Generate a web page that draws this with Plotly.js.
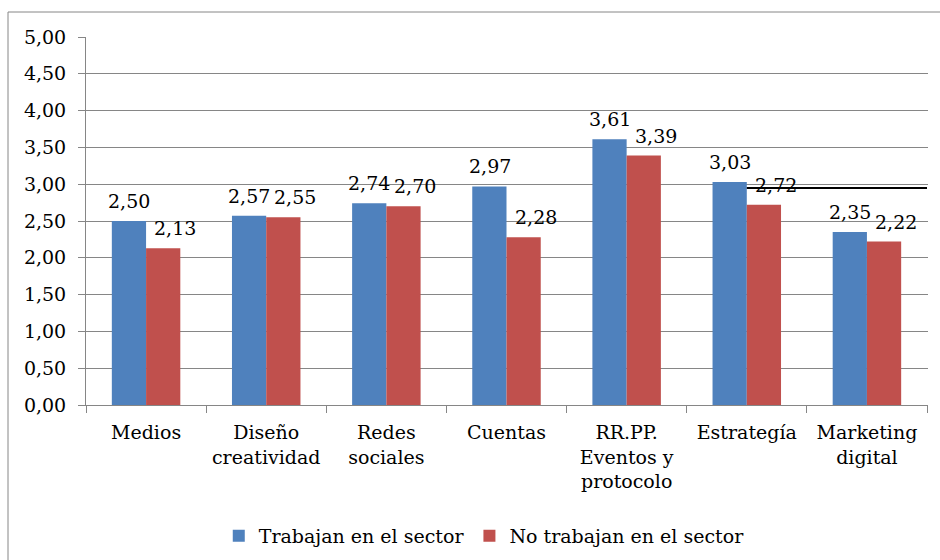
<!DOCTYPE html>
<html>
<head>
<meta charset="utf-8">
<script src="https://cdn.plot.ly/plotly-3.0.1.min.js"></script>
<style>html,body{margin:0;padding:0;background:#fff;}#chart{width:940px;height:560px;}</style>
</head>
<body>
<div id="chart"></div>
<script>
const categories = ['Medios', 'Diseño<br>creatividad', 'Redes<br>sociales', 'Cuentas', 'RR.PP.<br>Eventos y<br>protocolo', 'Estrategía', 'Marketing<br>digital'];
const trabajan = [2.50, 2.57, 2.74, 2.97, 3.61, 3.03, 2.35];
const noTrabajan = [2.13, 2.55, 2.70, 2.28, 3.39, 2.72, 2.22];
const seriesNames = ['Trabajan en el sector', 'No trabajan en el sector'];
const yTicks = [0, 0.5, 1, 1.5, 2, 2.5, 3, 3.5, 4, 4.5, 5];
const refLineValue = 2.95;
const refLineCats = [5, 6.5];

const FONT = '"DejaVu Serif", serif';
const FS = 19;
const colors = ['#4F81BD', '#C0504D'];
const series = [trabajan, noTrabajan];

const traces = series.map((vals, i) => ({
  type: 'bar', name: seriesNames[i], x: categories, y: vals, marker: {color: colors[i]}, hoverinfo: 'none'
}));

const fmt = v => v.toFixed(2).replace('.', ',');
const labelShift = [-17, 29];
const annotations = [];
series.forEach((vals, i) => {
  vals.forEach((v, j) => {
    annotations.push({
      x: categories[j], y: v, xref: 'x', yref: 'y', text: fmt(v), showarrow: false,
      xanchor: 'center', yanchor: 'bottom', xshift: labelShift[i], yshift: 7,
      font: {family: FONT, size: FS, color: '#000'}
    });
  });
});

const layout = {
  width: 940, height: 560,
  margin: {l: 86, r: 12, t: 37, b: 155, autoexpand: false},
  separators: ',.',
  paper_bgcolor: '#fff', plot_bgcolor: '#fff',
  font: {family: FONT, size: FS, color: '#000'},
  barmode: 'group', bargap: 0.43, bargroupgap: 0,
  showlegend: true,
  legend: {orientation: 'h', x: 0.473, xanchor: 'center', yref: 'container', y: 0.043, yanchor: 'middle',
           font: {family: FONT, size: FS}, traceorder: 'normal', itemwidth: 30},
  xaxis: {type: 'category', showgrid: false, showline: true, linecolor: '#868686', linewidth: 1,
          ticks: 'outside', tickson: 'boundaries', ticklen: 7, tickcolor: '#868686', tickangle: 0,
          ticklabelstandoff: 10,
          tickfont: {family: FONT, size: FS}, automargin: false, fixedrange: true},
  yaxis: {range: [0, 5], tickvals: yTicks, tickformat: '.2f', showgrid: true, gridcolor: '#868686',
          gridwidth: 1, showline: true, linecolor: '#868686', ticks: 'outside', ticklen: 7,
          tickcolor: '#868686', ticklabelstandoff: 8, zeroline: false, automargin: false,
          tickfont: {family: FONT, size: FS}, fixedrange: true},
  annotations: annotations,
  shapes: [
    {type: 'line', xref: 'x', yref: 'y', x0: refLineCats[0], x1: refLineCats[1], y0: refLineValue, y1: refLineValue,
     line: {color: '#000', width: 2}},
    {type: 'rect', xref: 'paper', yref: 'paper', x0: (8 - 86) / 842, x1: (945 - 86) / 842, y0: (405 - 565) / 368, y1: (405 - 12) / 368,
     line: {color: '#868686', width: 1}, fillcolor: 'rgba(0,0,0,0)', layer: 'below'}
  ]
};
Plotly.newPlot('chart', traces, layout, {staticPlot: true});
</script>
</body>
</html>
